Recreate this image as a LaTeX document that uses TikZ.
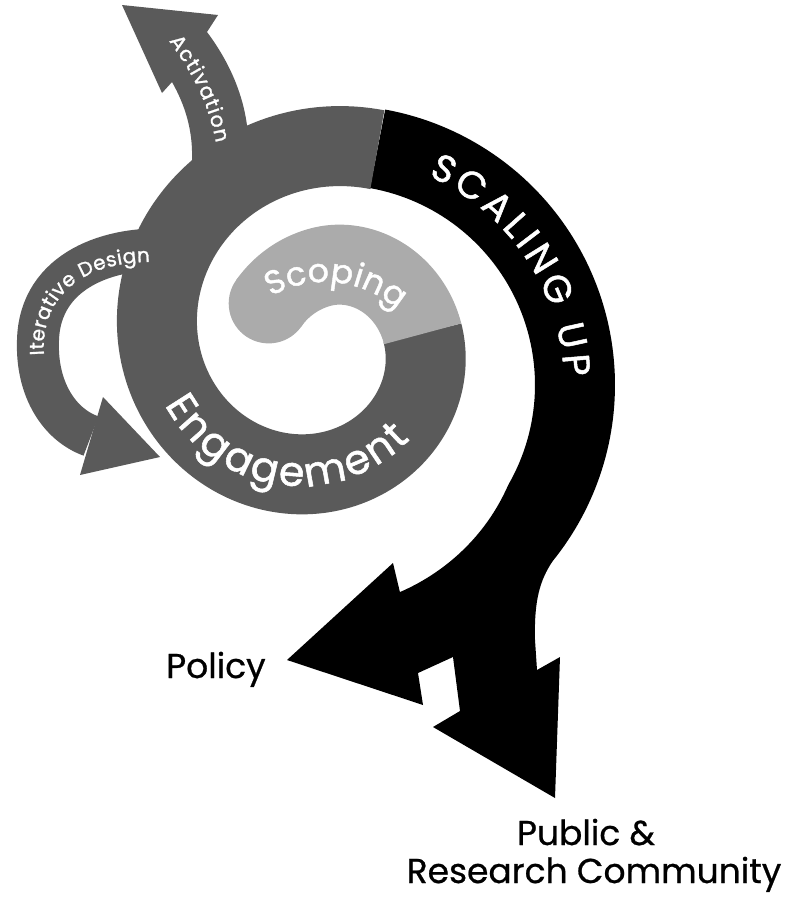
\documentclass[tikz,border=0pt]{standalone}
\usepackage{fontspec}
\newfontfamily\popm[FakeBold=1.3]{Poppins}
\newfontfamily\popl[FakeBold=0.7]{Poppins}
\usetikzlibrary{decorations.text}
\definecolor{eng}{HTML}{5A5A5A}
\definecolor{scop}{HTML}{ABABAB}
\tikzset{
  band/.style={line join=round},
  lbl/.style={inner sep=0pt, font=\popl\fontsize{34.5}{34.5}\selectfont},
  arctext/.style 2 args={decorate, decoration={text along path,
      text={|\popm\fontsize{#1}{#1}\selectfont\color{white}|#2},
      text align={fit to path=true}}}
}
\begin{document}
\begin{tikzpicture}[x=1pt,y=-1pt]
\useasboundingbox (0,0) rectangle (785,900);

% Scaling up (black band with two arrow heads)
\fill[black] (385,110.4) -- (369.8,189)
  -- plot[domain=10.2:162.6, samples=90] ({335+(200+0.4*max(0,\x-120))*sin(\x)},{385-(200+0.4*max(0,\x-120))*cos(\x)})
  -- (393,563) -- (287,660) -- (423,705) -- (418,673) -- (453,657)
  -- (460,711) -- (433,727) -- (555,798) -- (560,657) -- (537,670)
  -- (535,640) .. controls (534,600) and (540,580) .. (552.6,561.2)
  -- plot[domain=129:10.3, samples=90] ({335+280*sin(\x)},{385-280*cos(\x)}) -- cycle;

% Engagement spiral part
\draw[eng, band, line width=80pt] plot[domain=86:376.5, samples=160]
  ({321+(73+\x/3)*sin(\x)},{340-(73+\x/3)*cos(\x)});

% Activation branch
\fill[eng] (190,185) -- (192,160) .. controls (193,130) and (185,105) .. (172,82)
  -- (162,93) -- (122,5) -- (218,15) -- (207,32)
  .. controls (228,60) and (245,95) .. (248,135) -- (252,185) -- cycle;

% Iterative design loop
\draw[eng, line width=42pt] (175,250) .. controls (110,245) and (40,270) .. (38,340)
  .. controls (36,390) and (60,425) .. (91,436);
\fill[eng] (103,397) -- (160,457) -- (80,475) -- cycle;

% Scoping (inner start of the spiral)
\draw[scop, band, line width=80pt] plot[domain=-55:86.5, samples=80]
  ({321+(73+\x/3+(\x<0)*\x*\x/330)*sin(\x)},{340-(73+\x/3+(\x<0)*\x*\x/330)*cos(\x)});
\fill[scop] (268.7,303.4) circle[radius=40];

% Texts on the bands
\path[arctext={33}{Scoping}] plot[domain=-30:42, samples=40] ({325+108*sin(\x)},{390-108*cos(\x)});
\path[arctext={41}{Engagement}] plot[domain=0:108, samples=60] ({300+153*sin(242-\x)},{333-153*cos(242-\x)});
\path[arctext={38}{SCALING UP}] plot[domain=24:88, samples=60] ({335+229*sin(\x)},{385-229*cos(\x)});
\path[arctext={20}{Iterative Design}] (44,355) .. controls (40,295) and (85,262) .. (150,262);
\path[arctext={20.5}{Activation}] (169,41) .. controls (190,70) and (208,100) .. (216,143);

% Labels
\node[lbl, anchor=base west] (policy) at (166,678) {Policy};
\node[lbl, anchor=base] (public) at (586,845) {Public \&};
\node[lbl, anchor=base] (research) at (594,883) {Research Community};
\end{tikzpicture}
\end{document}
